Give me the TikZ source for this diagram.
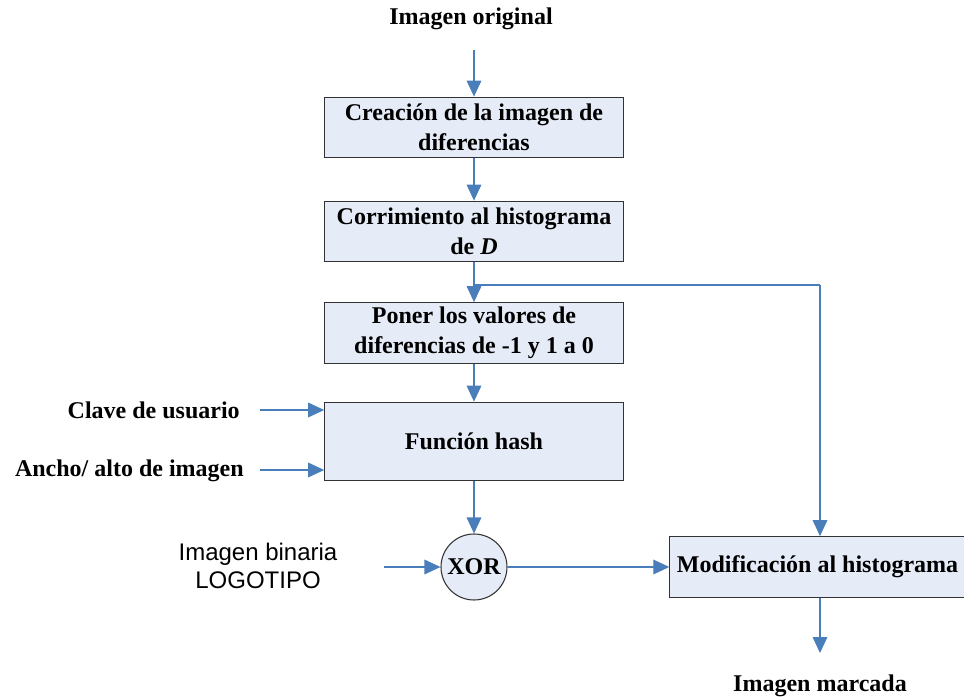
\documentclass[tikz,border=0pt]{standalone}
\usepackage{fontspec}
\setmainfont{Liberation Serif}
\setsansfont{Liberation Sans}
\usetikzlibrary{arrows.meta}
\definecolor{boxfill}{HTML}{E6ECF7}
\definecolor{flow}{HTML}{4A7EBB}
\begin{document}
\begin{tikzpicture}[x=0.75pt,y=-0.75pt,
  stepbox/.style={draw=black!80,fill=boxfill,line width=0.8pt,minimum width=224pt,
    minimum height=45.5pt,align=center,inner sep=0pt,
    font=\fontsize{18}{22.5}\selectfont\bfseries},
  label/.style={align=center,inner sep=0pt,font=\fontsize{18}{22.5}\selectfont\bfseries},
  flowline/.style={draw=flow,line width=0.9pt,-{Triangle[length=12pt,width=11pt]}},
  plain/.style={draw=flow,line width=0.9pt}]
\useasboundingbox (0,0) rectangle (964,698);

% titles and processing steps
\node[label] (orig) at (471,19) {Imagen original};
\coordinate (origend) at (474,50);
\node[stepbox] (b1) at (474,127.5) {Creación de la imagen de\\diferencias};
\node[stepbox] (b2) at (474,231.5) {Corrimiento al histograma\\de \textit{D}};
\node[stepbox] (b3) at (474,333) {Poner los valores de\\diferencias de -1 y 1 a 0};
\node[stepbox,minimum height=59pt] (b4) at (474,441.5) {Función hash};
\node[draw=black!80,fill=boxfill,line width=0.8pt,circle,minimum size=49.5pt,inner sep=0pt,
  font=\fontsize{18}{22.5}\selectfont\bfseries] (xor) at (474,567) {XOR};
\node[stepbox,minimum width=221.5pt] (b5) at (817.5,567) {Modificación al histograma};
\node[label] (marc) at (820,686) {Imagen marcada};

% side inputs
\node[label,anchor=east] (clave) at (240,410) {Clave de usuario};
\node[label,anchor=east] (ancho) at (244,471) {Ancho/ alto de imagen};
\node[align=center,inner sep=0pt,font=\fontsize{18}{21}\selectfont\sffamily] (logo) at (258,566) {Imagen binaria\\LOGOTIPO};

\coordinate (clavestart) at (260,410);
\coordinate (anchostart) at (260,470);
\coordinate (logostart) at (384,567);
\coordinate (split) at (474,285);
\coordinate (corner) at (820,285);
\coordinate (marcend) at (820,653);

% connectors
\draw[flowline] (origend) -- (b1.north);
\draw[flowline] (b1.south) -- (b2.north);
\draw[flowline] (b2.south) -- (b3.north);
\draw[plain] (split) -- (corner);
\draw[flowline] (corner) -- (corner |- b5.north);
\draw[flowline] (b3.south) -- (b4.north);
\draw[flowline] (clavestart) -- (clavestart -| b4.west);
\draw[flowline] (anchostart) -- (anchostart -| b4.west);
\draw[flowline] (b4.south) -- (xor.north);
\draw[flowline] (logostart) -- (xor.west);
\draw[flowline] (xor.east) -- (b5.west);
\draw[flowline] (b5.south -| marcend) -- (marcend);
\end{tikzpicture}
\end{document}
